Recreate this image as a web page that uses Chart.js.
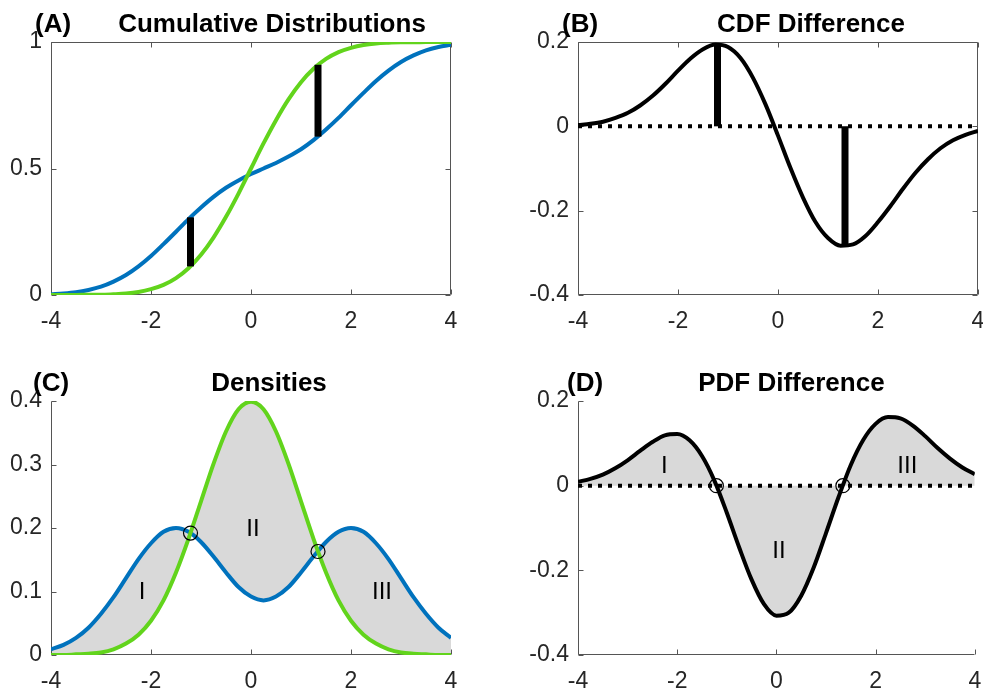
<!DOCTYPE html>
<html>
<head>
<meta charset="utf-8">
<script src="https://cdn.jsdelivr.net/npm/chart.js@4.4.1/dist/chart.umd.min.js"></script>
<style>
  html, body { margin: 0; padding: 0; background: #fff; }
  #wrap { position: relative; width: 983px; height: 694px; overflow: hidden; }
  canvas { position: absolute; }
</style>
</head>
<body>
<div id="wrap">
  <canvas id="chartA" width="491" height="347" style="left:0;top:0"></canvas>
  <canvas id="chartB" width="492" height="347" style="left:491px;top:0"></canvas>
  <canvas id="chartC" width="491" height="347" style="left:0;top:347px"></canvas>
  <canvas id="chartD" width="492" height="347" style="left:491px;top:347px"></canvas>
</div>
<script>
// grid of x values
const xs = [-4, -3.75, -3.5, -3.25, -3, -2.75, -2.5, -2.25, -2, -1.75, -1.5, -1.25, -1, -0.75, -0.5, -0.25,
            0, 0.25, 0.5, 0.75, 1, 1.25, 1.5, 1.75, 2, 2.25, 2.5, 2.75, 3, 3.25, 3.5, 3.75, 4];

// (A) cumulative distributions
const blueCdf = [0.003, 0.006, 0.011, 0.020, 0.033, 0.053, 0.079, 0.113, 0.154, 0.201, 0.250, 0.300, 0.346, 0.388, 0.424, 0.453,
                 0.478, 0.500, 0.522, 0.547, 0.576, 0.612, 0.654, 0.700, 0.750, 0.799, 0.846, 0.887, 0.921, 0.947, 0.967, 0.980, 0.989];
const greenCdf = [0.000, 0.000, 0.000, 0.001, 0.001, 0.003, 0.006, 0.012, 0.023, 0.040, 0.067, 0.106, 0.159, 0.227, 0.309, 0.401,
                  0.500, 0.599, 0.691, 0.773, 0.841, 0.894, 0.933, 0.960, 0.977, 0.988, 0.994, 0.997, 0.999, 0.999, 1.000, 1.000, 1.000];

// (B) CDF difference
const cdfDiff = [0.003, 0.006, 0.011, 0.020, 0.032, 0.050, 0.073, 0.101, 0.132, 0.161, 0.183, 0.194, 0.188, 0.162, 0.115, 0.052,
                 -0.022, -0.099, -0.169, -0.227, -0.265, -0.283, -0.280, -0.260, -0.227, -0.189, -0.148, -0.110, -0.078, -0.052, -0.033, -0.020, -0.011];

// (C) densities
const bluePdf = [0.009, 0.016, 0.027, 0.043, 0.065, 0.091, 0.121, 0.151, 0.176, 0.194, 0.200, 0.194, 0.178, 0.155, 0.130, 0.107,
                 0.092, 0.086, 0.092, 0.107, 0.130, 0.155, 0.178, 0.194, 0.200, 0.194, 0.176, 0.151, 0.121, 0.091, 0.065, 0.043, 0.027];
const greenPdf = [0.000, 0.000, 0.001, 0.002, 0.004, 0.009, 0.018, 0.032, 0.054, 0.086, 0.130, 0.183, 0.242, 0.301, 0.352, 0.387,
                  0.399, 0.387, 0.352, 0.301, 0.242, 0.183, 0.130, 0.086, 0.054, 0.032, 0.018, 0.009, 0.004, 0.002, 0.001, 0.000, 0.000];

// (D) PDF difference
const pdfDiff = [0.009, 0.016, 0.026, 0.041, 0.060, 0.082, 0.103, 0.119, 0.122, 0.107, 0.070, 0.012, -0.064, -0.146, -0.222, -0.280,
                 -0.307, -0.300, -0.260, -0.194, -0.112, -0.028, 0.049, 0.108, 0.146, 0.162, 0.159, 0.142, 0.117, 0.089, 0.064, 0.043, 0.027];

// the two places where the densities cross (= biggest CDF gaps)
const crossX = [-1.21, 1.34];
const crossPdf = [0.192, 0.163];
const gapLow = [0.113, 0.626];
const gapHigh = [0.307, 0.910];
const gapDiff = [0.194, -0.284];

// region labels
const regionNames = ["I", "II", "III"];
const regionXC = [-2.18, 0.04, 2.62];
const regionYC = [0.099, 0.198, 0.099];
const regionXD = [-2.26, 0.05, 2.64];
const regionYD = [0.045, -0.156, 0.045];

// tick labels
const xTicks = [-4, -2, 0, 2, 4];
const yTicksA = [0, 0.5, 1];
const yTicksB = [-0.4, -0.2, 0, 0.2];
const yTicksC = [0, 0.1, 0.2, 0.3, 0.4];
const yTicksD = [-0.4, -0.2, 0, 0.2];

const BLUE = "#0072BD";
const GREEN = "#62D41C";
const SHADE = "#D9D9D9";
const AXIS = "#555555";
const FONT = '"Liberation Sans", Arial, Helvetica, sans-serif';
const tickFont = { family: FONT, size: 23 };

const pts = (ys) => xs.map((x, i) => ({ x: x, y: ys[i] }));
const seg = (x, y0, y1) => [{ x: x, y: y0 }, { x: x, y: y1 }];

function curve(ys, color, extra) {
  return Object.assign({
    data: pts(ys), borderColor: color, borderWidth: 4, pointRadius: 0,
    fill: false, cubicInterpolationMode: "monotone"
  }, extra || {});
}

function gapBar(x, y0, y1) {
  return { data: seg(x, y0, y1), borderColor: "#000", borderWidth: 7, borderCapStyle: "butt",
           pointRadius: 0, tension: 0, fill: false };
}

function zeroLine() {
  return { data: [{ x: -4, y: 0 }, { x: 4, y: 0 }], borderColor: "#000", borderWidth: 4,
           borderDash: [4, 6], borderCapStyle: "butt", pointRadius: 0, tension: 0, fill: false };
}

function circles(ys) {
  return { data: crossX.map((x, i) => ({ x: x, y: ys[i] })), showLine: false, pointRadius: 7,
           pointHoverRadius: 7, pointBorderColor: "#000", pointBackgroundColor: "rgba(0,0,0,0)",
           pointBorderWidth: 1.2 };
}

// axis lines + inward ticks (MATLAB style), box optional
function axesPlugin(box) {
  return {
    id: "axesBox",
    beforeDatasetsDraw(chart) {
      const ctx = chart.ctx, a = chart.chartArea;
      const sx = chart.scales.x, sy = chart.scales.y;
      const L = Math.round(a.left) + 0.5, R = Math.round(a.right) - 0.5;
      const T = Math.round(a.top) + 0.5, B = Math.round(a.bottom) - 0.5;
      ctx.save();
      ctx.strokeStyle = AXIS;
      ctx.lineWidth = 1;
      ctx.beginPath();
      ctx.moveTo(L, T); ctx.lineTo(L, B); ctx.lineTo(R, B);
      if (box) { ctx.lineTo(R, T); ctx.lineTo(L, T); }
      sx.ticks.forEach(t => {
        const px = Math.round(sx.getPixelForValue(t.value)) + 0.5;
        ctx.moveTo(px, B); ctx.lineTo(px, B - 5);
        if (box) { ctx.moveTo(px, T); ctx.lineTo(px, T + 5); }
      });
      sy.ticks.forEach(t => {
        const py = Math.round(sy.getPixelForValue(t.value)) + 0.5;
        ctx.moveTo(L, py); ctx.lineTo(L + 5, py);
        if (box) { ctx.moveTo(R, py); ctx.lineTo(R - 5, py); }
      });
      ctx.stroke();
      ctx.restore();
    }
  };
}

// panel letter and title above the axes
function titlePlugin(letter, title, letterDx, titleDx) {
  return {
    id: "panelText",
    afterDraw(chart) {
      const ctx = chart.ctx, a = chart.chartArea;
      ctx.save();
      ctx.fillStyle = "#000";
      ctx.font = "bold 26px " + FONT;
      ctx.textBaseline = "alphabetic";
      ctx.textAlign = "left";
      ctx.fillText(letter, a.left + letterDx, a.top - 10);
      ctx.textAlign = "center";
      ctx.fillText(title, (a.left + a.right) / 2 + titleDx, a.top - 10);
      ctx.restore();
    }
  };
}

function regionPlugin(xv, yv) {
  return {
    id: "regionText",
    afterDatasetsDraw(chart) {
      const ctx = chart.ctx, sx = chart.scales.x, sy = chart.scales.y;
      ctx.save();
      ctx.fillStyle = "#000";
      ctx.font = "24px " + FONT;
      ctx.textAlign = "center";
      ctx.textBaseline = "middle";
      regionNames.forEach((n, i) => ctx.fillText(n, sx.getPixelForValue(xv[i]), sy.getPixelForValue(yv[i])));
      ctx.restore();
    }
  };
}

function setTicks(values) {
  return function (scale) { scale.ticks = values.map(v => ({ value: v })); };
}

function buildPanel(id, cfg) {
  const plugins = [axesPlugin(cfg.box), titlePlugin(cfg.letter, cfg.title, cfg.letterDx, cfg.titleDx)];
  if (cfg.regions) plugins.push(regionPlugin(cfg.regions[0], cfg.regions[1]));
  return new Chart(document.getElementById(id), {
    type: "line",
    data: { datasets: cfg.datasets },
    options: {
      responsive: false,
      animation: false,
      events: [],
      layout: { padding: cfg.padding },
      plugins: {
        legend: { display: false },
        tooltip: { enabled: false },
        filler: { drawTime: "beforeDatasetsDraw" }
      },
      scales: {
        x: {
          type: "linear", min: -4, max: 4,
          afterBuildTicks: setTicks(xTicks),
          afterFit: s => { s.height = cfg.xAxisHeight; s.paddingLeft = 0; s.paddingRight = 0; },
          grid: { display: false, drawTicks: false }, border: { display: false },
          ticks: { font: tickFont, color: "#262626", padding: 13, maxRotation: 0, autoSkip: false,
                   callback: v => String(v) }
        },
        y: {
          type: "linear", min: cfg.yMin, max: cfg.yMax,
          afterBuildTicks: setTicks(cfg.yTicks),
          afterFit: s => { s.width = cfg.yAxisWidth; s.paddingTop = 0; s.paddingBottom = 0; },
          grid: { display: false, drawTicks: false }, border: { display: false },
          ticks: { font: tickFont, color: "#262626", padding: 9, autoSkip: false,
                   callback: v => String(v) }
        }
      }
    },
    plugins: plugins
  });
}

// (A)
buildPanel("chartA", {
  letter: "(A)", title: "Cumulative Distributions", letterDx: -16, titleDx: 21, box: true,
  padding: { top: 42, left: 0, right: 40, bottom: 0 }, yAxisWidth: 51, xAxisHeight: 52,
  yMin: 0, yMax: 1, yTicks: yTicksA,
  datasets: [
    gapBar(crossX[0], gapLow[0], gapHigh[0]),
    gapBar(crossX[1], gapLow[1], gapHigh[1]),
    curve(greenCdf, GREEN),
    curve(blueCdf, BLUE)
  ]
});

// (B)
buildPanel("chartB", {
  letter: "(B)", title: "CDF Difference", letterDx: -16, titleDx: 33, box: true,
  padding: { top: 42, left: 0, right: 5, bottom: 0 }, yAxisWidth: 87, xAxisHeight: 52,
  yMin: -0.4, yMax: 0.2, yTicks: yTicksB,
  datasets: [
    gapBar(crossX[0], 0, gapDiff[0]),
    gapBar(crossX[1], 0, gapDiff[1]),
    curve(cdfDiff, "#000"),
    zeroLine()
  ]
});

// (C)
buildPanel("chartC", {
  letter: "(C)", title: "Densities", letterDx: -18, titleDx: 18, box: false,
  padding: { top: 54, left: 0, right: 40, bottom: 0 }, yAxisWidth: 51, xAxisHeight: 39,
  yMin: 0, yMax: 0.4, yTicks: yTicksC, regions: [regionXC, regionYC],
  datasets: [
    circles(crossPdf),
    curve(greenPdf, GREEN),
    curve(bluePdf, BLUE, { fill: { target: 1, above: SHADE, below: SHADE } })
  ]
});

// (D)
buildPanel("chartD", {
  letter: "(D)", title: "PDF Difference", letterDx: -11, titleDx: 15, box: false,
  padding: { top: 54, left: 0, right: 5, bottom: 0 }, yAxisWidth: 87, xAxisHeight: 39,
  yMin: -0.4, yMax: 0.2, yTicks: yTicksD, regions: [regionXD, regionYD],
  datasets: [
    circles([0, 0]),
    curve(pdfDiff, "#000", { fill: { target: "origin", above: SHADE, below: SHADE } }),
    zeroLine()
  ]
});
</script>
</body>
</html>
